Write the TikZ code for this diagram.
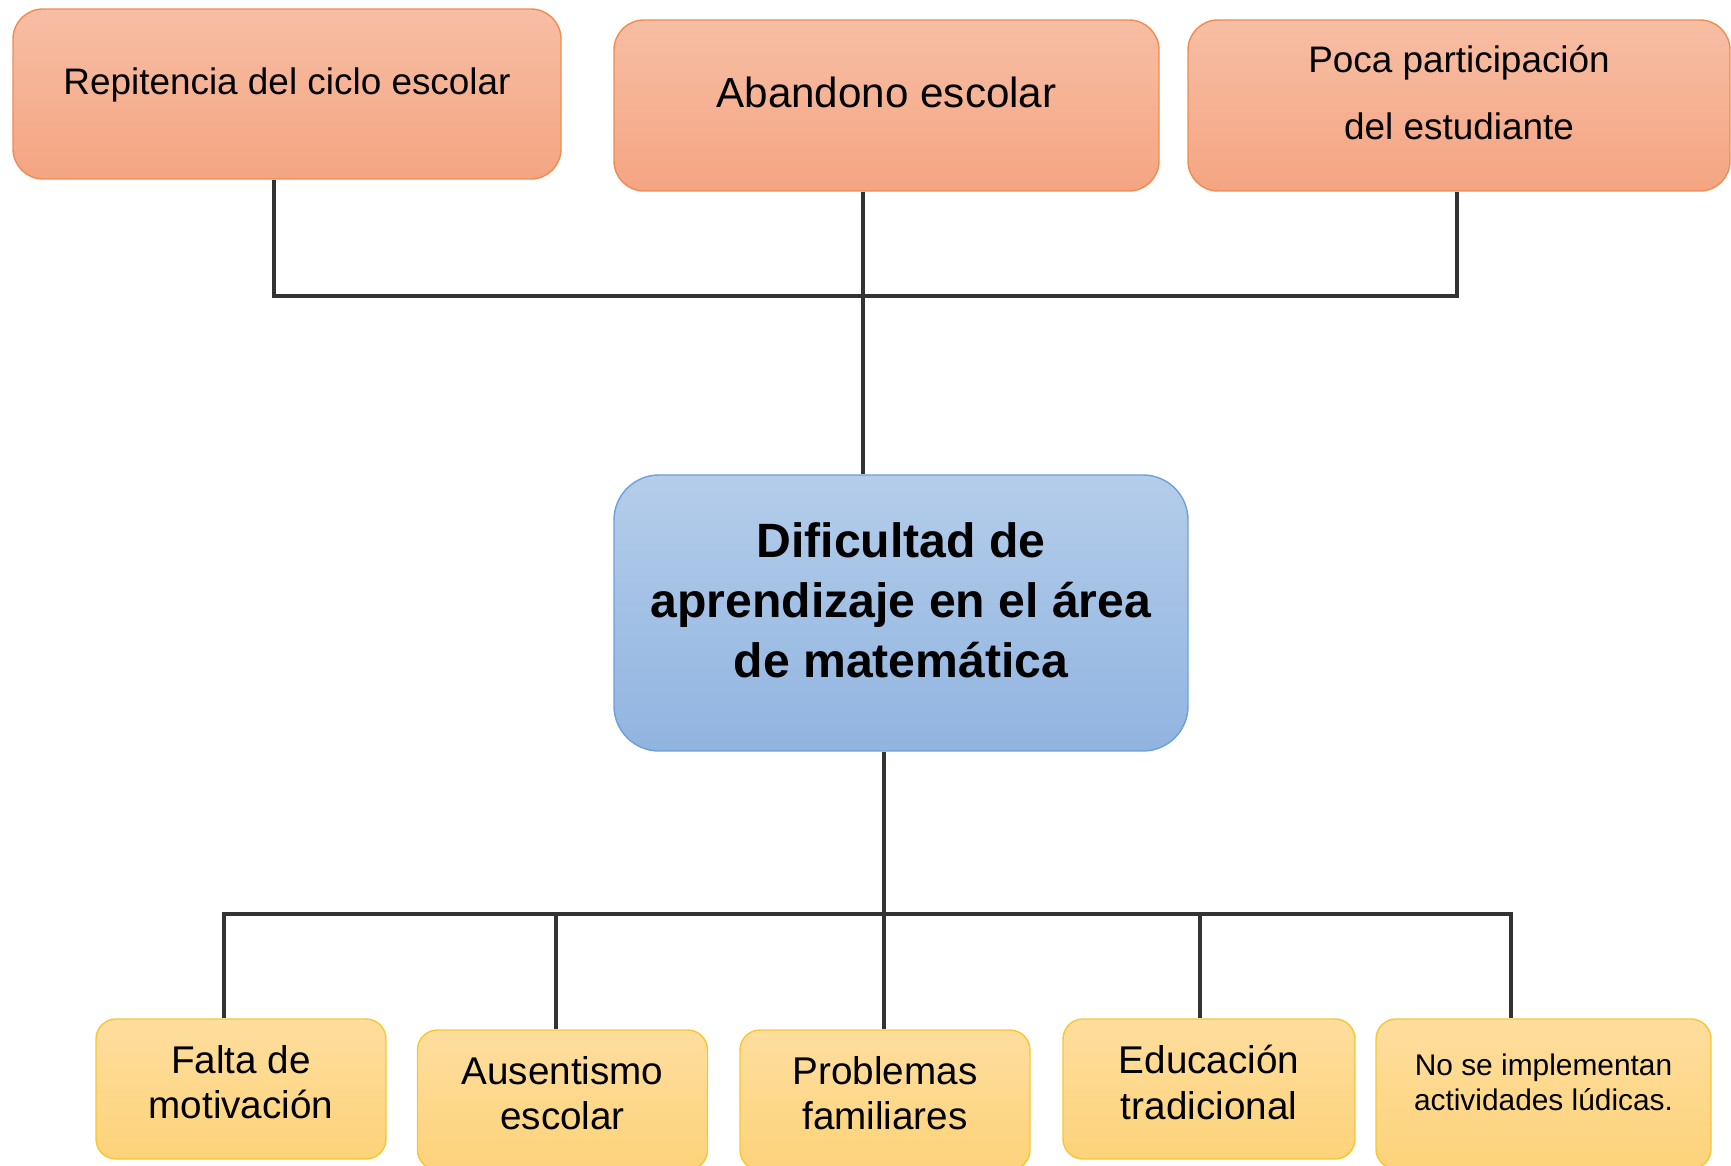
\documentclass[tikz,border=0pt]{standalone}
\usepackage{fontspec}
\setmainfont{Liberation Sans}
\usepackage{tikz}
\usetikzlibrary{calc}
\definecolor{linkgray}{rgb}{0.2,0.2,0.2}
\definecolor{orgtop}{RGB}{247,190,164}
\definecolor{orgbot}{RGB}{244,165,130}
\definecolor{orgline}{RGB}{240,140,80}
\definecolor{blutop}{RGB}{180,205,234}
\definecolor{blubot}{RGB}{145,180,224}
\definecolor{bluline}{RGB}{110,160,220}
\definecolor{yeltop}{RGB}{254,222,158}
\definecolor{yelbot}{RGB}{253,211,122}
\definecolor{yelline}{RGB}{248,198,50}

\begin{document}
\begin{tikzpicture}
      [x = 0.1mm, y = -0.1mm,
      link/.style = {draw = linkgray, line width = 1pt},
      effect/.style = {
         draw = orgline,
         top color = orgtop,
         bottom color = orgbot,
         rounded corners = 3mm,
         align = center,
         text depth = 2.6mm,
         font = \fontsize{10.5}{19}\selectfont
      },
      problem/.style = {
         draw = bluline,
         top color = blutop,
         bottom color = blubot,
         rounded corners = 4.5mm,
         align = center,
         text depth = 2.6mm,
         font = \fontsize{13.7}{17}\selectfont\bfseries
      },
      cause/.style = {
         draw = yelline,
         top color = yeltop,
         bottom color = yelbot,
         rounded corners = 2mm,
         align = center,
         text depth = 1.4mm,
         minimum width = 29mm,
         minimum height = 14mm,
         font = \fontsize{11}{13}\selectfont
      }]

      \useasboundingbox (0, 0) rectangle (1731, 1166);

      % efectos
      \node[effect, minimum width = 54.8mm, minimum height = 17mm] (rep) at (287, 94)
         {Repitencia del ciclo escolar};
      \node[effect, minimum width = 54.5mm, minimum height = 17.1mm,
         font = \fontsize{12}{14}\selectfont] (aba) at (886.5, 105.5)
         {Abandono escolar};
      \node[effect, minimum width = 54.2mm, minimum height = 17.1mm] (poca) at (1459, 105.5)
         {Poca participación\\del estudiante};

      % problema central
      \node[problem, minimum width = 57.4mm, minimum height = 27.6mm] (dif) at (901, 613)
         {Dificultad de\\aprendizaje en el área\\de matemática};

      % causas
      \node[cause] (fal) at (241, 1089) {Falta de\\motivación};
      \node[cause] (aus) at (562.5, 1100) {Ausentismo\\escolar};
      \node[cause] (pro) at (885, 1100) {Problemas\\familiares};
      \node[cause, minimum width = 29.2mm] (edu) at (1209, 1089) {Educación\\tradicional};
      \node[cause, minimum width = 33.5mm, minimum height = 15mm,
         font = \fontsize{8.5}{10}\selectfont, text depth = 2.3mm] (nose) at (1543.5, 1094)
         {No se implementan\\actividades lúdicas.};

      \coordinate (t1) at (274, 296);
      \coordinate (t2) at (863, 296);
      \coordinate (t3) at (1457, 296);
      \coordinate (b1) at (224, 914);
      \coordinate (b2) at (556, 914);
      \coordinate (b3) at (884, 914);
      \coordinate (b4) at (1200, 914);
      \coordinate (b5) at (1511, 914);

      \draw[link] (rep.south -| t1) -- (t1) -- (t3) -- (poca.south -| t3);
      \draw[link] (aba.south -| t2) -- (t2) -- (dif.north -| t2);

      \draw[link] (fal.north -| b1) -- (b1) -- (b5) -- (nose.north -| b5);
      \draw[link] (dif.south -| b3) -- (pro.north -| b3);
      \draw[link] (b2) -- (aus.north -| b2);
      \draw[link] (b4) -- (edu.north -| b4);

   \end{tikzpicture}
\end{document}
